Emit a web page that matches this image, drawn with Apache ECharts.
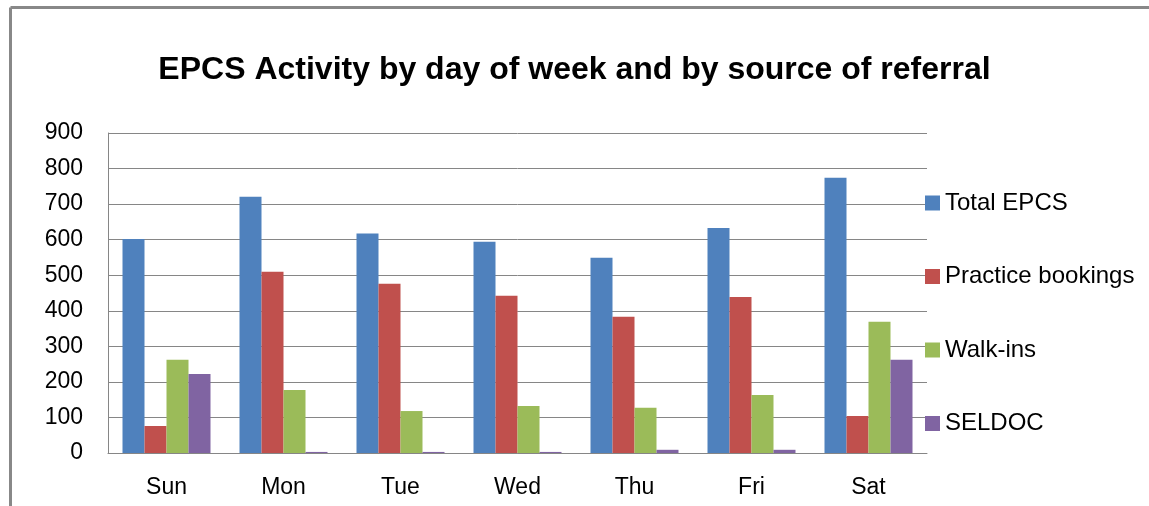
<!DOCTYPE html>
<html>
<head>
<meta charset="utf-8">
<script src="https://cdn.jsdelivr.net/npm/echarts@6/dist/echarts.min.js"></script>
<style>
  html, body { margin: 0; padding: 0; background: #fff; }
  #chart { width: 1149px; height: 506px; }
</style>
</head>
<body>
<div id="chart"></div>
<script>
// categories and series values
const days = ['Sun', 'Mon', 'Tue', 'Wed', 'Thu', 'Fri', 'Sat']
const totalEpcs = [602, 721, 617, 594, 549, 633, 774]
const practiceBookings = [76, 510, 476, 442, 383, 439, 104]
const walkIns = [262, 177, 118, 132, 127, 163, 369]
const seldoc = [222, 3, 3, 3, 9, 9, 262]

const seriesNames = ['Total EPCS', 'Practice bookings', 'Walk-ins', 'SELDOC']
const seriesData = [totalEpcs, practiceBookings, walkIns, seldoc]
const colors = ['#4F81BD', '#C0504D', '#9BBB59', '#8064A2']

const font = '"Liberation Sans", Arial, sans-serif'

const chart = echarts.init(document.getElementById('chart'))

const option = {
  animation: false,
  color: colors,
  title: {
    text: 'EPCS Activity by day of week and by source of referral',
    left: 'center',
    top: 49,
    textStyle: { fontFamily: font, fontSize: 32, fontWeight: 'bold', color: '#000' }
  },
  // outer frame (top and left edges only, as in the picture)
  graphic: [
    { type: 'line', shape: { x1: 10.5, y1: 7.5, x2: 1149, y2: 7.5 }, style: { stroke: '#888', lineWidth: 3 } },
    { type: 'line', shape: { x1: 10.5, y1: 7.5, x2: 10.5, y2: 506 }, style: { stroke: '#888', lineWidth: 3 } }
  ],
  legend: {
    orient: 'vertical',
    left: 925,
    top: 191,
    padding: 0,
    itemWidth: 15,
    itemHeight: 15,
    itemGap: 49.5,
    itemTextGap: 6,
    icon: 'rect',
    textStyle: { fontFamily: font, fontSize: 24, lineHeight: 24, color: '#000' },
    data: seriesNames
  },
  grid: { left: 108, right: 222, top: 133, bottom: 53 },
  xAxis: {
    type: 'category',
    data: days,
    axisLine: { lineStyle: { color: '#868686', width: 1 } },
    axisTick: { show: false },
    axisLabel: { fontFamily: font, fontSize: 23, color: '#000', margin: 23 }
  },
  yAxis: {
    type: 'value',
    min: 0,
    max: 900,
    interval: 100,
    axisLine: { show: true, lineStyle: { color: '#868686', width: 1 } },
    axisTick: { show: false },
    splitLine: { lineStyle: { color: '#868686', width: 1 } },
    axisLabel: { fontFamily: font, fontSize: 23, color: '#000', margin: 25 }
  },
  series: seriesNames.map((name, i) => ({
    name: name,
    type: 'bar',
    data: seriesData[i],
    barWidth: 22,
    barGap: '0%'
  }))
}

chart.setOption(option)
</script>
</body>
</html>
